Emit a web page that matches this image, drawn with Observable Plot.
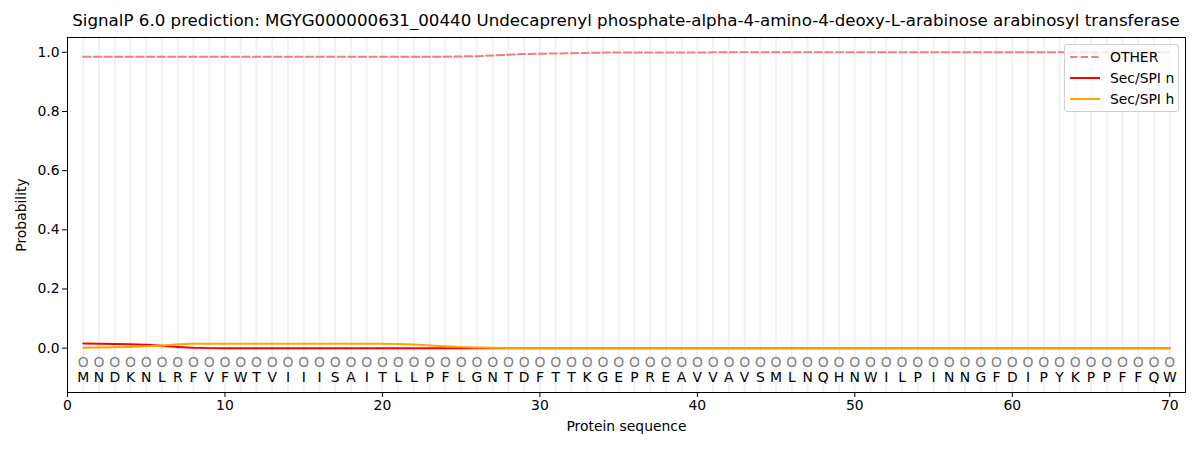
<!DOCTYPE html>
<html>
<head>
<meta charset="utf-8">
<script src="https://cdn.jsdelivr.net/npm/d3@7"></script>
<script src="https://cdn.jsdelivr.net/npm/@observablehq/plot@0.6"></script>
<style>
  body { margin: 0; background: #fff; font-family: "DejaVu Sans", sans-serif; }
  #wrap { position: relative; width: 1200px; height: 450px; }
  #title { position: absolute; left: 67px; width: 1118px; top: 11px; text-align: center; font-size: 16.67px; color: #000; white-space: nowrap; }
  #chart { position: absolute; left: 0; top: 30px; }
  #legend { position: absolute; left: 1064px; top: 44px; width: 113px; height: 66px; border: 1px solid #d0d0d0; border-radius: 3px; background: rgba(255,255,255,0.8); font-size: 13.9px; }
  .item { position: absolute; left: 5px; height: 16px; display: flex; align-items: center; }
  .item span { margin-left: 10px; }
</style>
</head>
<body>
<div id="wrap">
  <div id="title">SignalP 6.0 prediction: MGYG000000631_00440 Undecaprenyl phosphate-alpha-4-amino-4-deoxy-L-arabinose arabinosyl transferase</div>
  <div id="chart"></div>
  <div id="legend"></div>
</div>
<script>
const residues = "MNDKNLRFVFWTVIIISAITLLPFLGNTDFTTKGEPREAVVAVSMLNQHNWILPINNGFDIPYKPPFFQW".split("");
const otherProb = [0.985,0.985,0.985,0.985,0.985,0.985,0.985,0.985,0.985,0.985,
  0.985,0.985,0.985,0.985,0.985,0.985,0.985,0.985,0.985,0.985,
  0.985,0.985,0.985,0.985,0.986,0.987,0.989,0.992,0.994,0.995,
  0.996,0.997,0.998,0.999,0.999,0.999,0.999,0.999,0.999,0.999,
  1,1,1,1,1,1,1,1,1,1, 1,1,1,1,1,1,1,1,1,1, 1,1,1,1,1,1,1,1,1,1];
const secN = [0.016,0.015,0.014,0.013,0.011,0.008,0.004,0.001,0,0,
  0,0,0,0,0,0,0,0,0,0, 0,0,0,0,0,0,0,0,0,0, 0,0,0,0,0,0,0,0,0,0,
  0,0,0,0,0,0,0,0,0,0, 0,0,0,0,0,0,0,0,0,0, 0,0,0,0,0,0,0,0,0,0];
const secH = [0.001,0.002,0.003,0.004,0.006,0.009,0.013,0.015,0.015,0.015,
  0.015,0.015,0.015,0.015,0.015,0.015,0.015,0.015,0.015,0.015,
  0.014,0.012,0.009,0.006,0.004,0.002,0.001,0,0,0,
  0,0,0,0,0,0,0,0,0,0, 0,0,0,0,0,0,0,0,0,0, 0,0,0,0,0,0,0,0,0,0, 0,0,0,0,0,0,0,0,0,0];
const xTicks = [0,10,20,30,40,50,60,70];
const yTicks = [0,0.2,0.4,0.6,0.8,1.0];

const series = [
  {name: "OTHER", values: otherProb, color: "#f08080", dash: "7.4,3.2"},
  {name: "Sec/SPI n", values: secN, color: "red", dash: null},
  {name: "Sec/SPI h", values: secH, color: "orange", dash: null}
];
const idx = residues.map((_, i) => i + 1);
const rows = s => s.values.map((v, i) => ({x: i + 1, y: v}));

const plot = Plot.plot({
  width: 1200,
  height: 420,
  marginLeft: 67,
  marginRight: 15,
  marginTop: 7,
  marginBottom: 58,
  style: {fontFamily: "DejaVu Sans, sans-serif", fontSize: "13.9px", color: "#000", background: "#fff"},
  x: {domain: [0, 71]},
  y: {domain: [-0.15, 1.05]},
  marks: [
    Plot.ruleX(idx, {x: d => d, stroke: "#000", strokeOpacity: 0.055, strokeWidth: 2}),
    ...series.map(s => Plot.line(rows(s), {x: "x", y: "y", stroke: s.color, strokeWidth: 2, strokeDasharray: s.dash})),
    Plot.text(idx, {x: d => d, y: -0.05, text: () => "O", fill: "#808080", fontSize: 13.9}),
    Plot.text(residues, {x: (d, i) => i + 1, y: -0.1, text: d => d, fill: "#000", fontSize: 13.9}),
    Plot.frame({stroke: "#000"}),
    Plot.axisX({ticks: xTicks, tickSize: 5, tickPadding: 3, tickFormat: d3.format("d"), label: "Protein sequence", labelAnchor: "center", labelArrow: "none", labelOffset: 38}),
    Plot.axisY({ticks: yTicks, tickSize: 5, tickPadding: 3, tickFormat: d3.format(".1f"), label: "Probability", labelAnchor: "center", labelArrow: "none", labelOffset: 51})
  ]
});
document.getElementById("chart").appendChild(plot);

const legend = document.getElementById("legend");
const ys = [4, 25, 46];
series.forEach((s, i) => {
  const div = document.createElement("div");
  div.className = "item";
  div.style.top = ys[i] + "px";
  div.innerHTML = `<svg width="30" height="16"><line x1="0" x2="30" y1="8" y2="8" stroke="${s.color}" stroke-width="2" ${s.dash ? `stroke-dasharray="${s.dash}"` : ""}/></svg><span>${s.name}</span>`;
  legend.appendChild(div);
});
</script>
</body>
</html>
